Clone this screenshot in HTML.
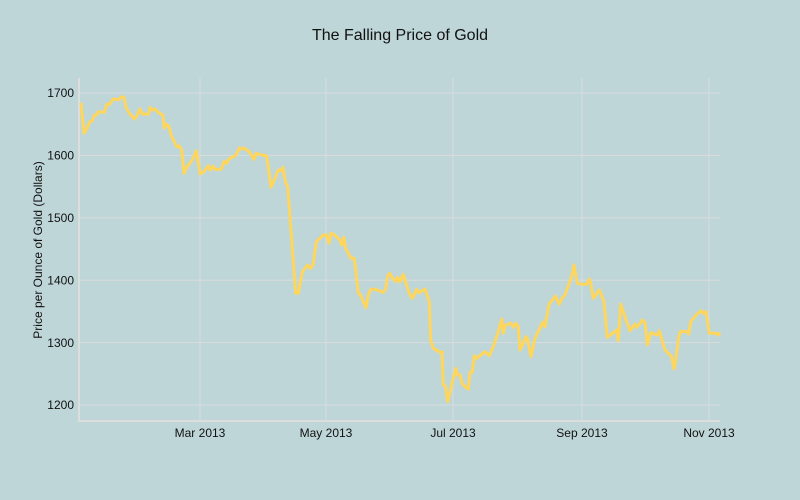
<!DOCTYPE html>
<html><head><style>html,body{margin:0;padding:0;width:800px;height:500px;overflow:hidden;background:#bfd6d9}svg{display:block}</style></head><body>
<svg width="800" height="500" xmlns="http://www.w3.org/2000/svg" font-family="Liberation Sans, sans-serif">
<rect width="800" height="500" fill="#bfd6d9"/>
<g stroke="#d9dcdc" stroke-width="1">
<line x1="79" x2="720" y1="93" y2="93"/><line x1="79" x2="720" y1="155.4" y2="155.4"/>
<line x1="79" x2="720" y1="217.8" y2="217.8"/><line x1="79" x2="720" y1="280.2" y2="280.2"/>
<line x1="79" x2="720" y1="342.6" y2="342.6"/><line x1="79" x2="720" y1="405" y2="405"/>
<line x1="200" x2="200" y1="78" y2="420"/><line x1="326" x2="326" y1="78" y2="420"/>
<line x1="453" x2="453" y1="78" y2="420"/><line x1="582" x2="582" y1="78" y2="420"/>
<line x1="709" x2="709" y1="78" y2="420"/>
</g>
<line x1="79" x2="79" y1="78" y2="421" stroke="#dcdede" stroke-width="2"/>
<line x1="78" x2="720" y1="421" y2="421" stroke="#dcdede" stroke-width="2"/>
<text x="400" y="40" text-anchor="middle" font-size="16" fill="#111">The Falling Price of Gold</text>
<g font-size="12" fill="#111" text-anchor="end">
<text x="74" y="97">1700</text><text x="74" y="159.5">1600</text><text x="74" y="222">1500</text>
<text x="74" y="284.5">1400</text><text x="74" y="347">1300</text><text x="74" y="409">1200</text>
</g>
<g font-size="12" fill="#111" text-anchor="middle">
<text x="200" y="437">Mar 2013</text><text x="326" y="437">May 2013</text><text x="453" y="437">Jul 2013</text>
<text x="582" y="437">Sep 2013</text><text x="709" y="437">Nov 2013</text>
</g>
<text transform="translate(42,250) rotate(-90)" text-anchor="middle" font-size="12" fill="#111">Price per Ounce of Gold (Dollars)</text>
<polyline fill="none" stroke="#ffd65c" stroke-width="3" stroke-linejoin="round" points="81,102.7 84,133.3 86,130 90,121.7 92.3,120.7 94.3,115 97,114.7 98.3,111.7 104.3,112.3 106.7,104.3 109.7,104.3 113,99 118.3,99.7 121.7,96.7 124,97.3 126,107.3 129,112.7 134.3,119 136.7,116 140,109 142.3,114 148.3,114.3 150.3,107.3 152.3,110 155,109 158.3,112.3 163,115.3 164.3,128 166.7,124.3 169,126.7 171.7,136.7 174,140.7 176.7,146.7 179.3,146 181.7,150 184,173.3 186.7,167.3 192.3,160 194.3,156 196.3,150.7 200.3,174 204.3,171.3 208.3,165.7 210.3,170 213,166 215,169.3 221,169.3 224.3,161.3 226.7,163.3 229,159 235.7,155.3 239.7,147.7 241.7,149 244.3,148 250,152.7 254,159.3 256.3,153.3 261.7,155 266.7,156 271,187.3 274.3,180 278.3,170 281,170.7 283,167.3 285.7,183.3 287.7,186.7 295.7,293.3 298.3,293.3 302.3,271.7 307.7,265 310.3,268.3 313,265 316.3,241.7 323.3,235 326.7,235 329,243.3 331,233.3 333.3,234 340,240 341.7,245 343.7,237.3 345.7,248.3 351,258.3 354.3,258.3 358.3,293.3 360,294 366,307.7 368.3,295 371,289.3 374.3,289 383.3,292.3 385.7,288.7 387.7,276 389.7,273.3 393,278.7 395.7,281.3 397.7,277.3 399.7,282 403.3,274.3 406,283.3 409.3,293.3 412.3,298.3 416.7,289.3 419,292.7 425,289 429.3,301.7 430.7,340 433.3,348.3 440.7,352.7 442,351.7 443.3,385 445.3,386 447.7,401.7 453.3,378.3 456,368.3 457.3,375 460,375 462.3,384 468.3,389.3 470,372.3 472.3,372 474.3,355.7 476.7,358.3 485,351.7 489.3,355.7 493.3,346.7 498.3,331.7 501.7,319 503.3,333.3 505.3,325 511,323.3 513.3,327.3 516,323.3 518.3,326.7 520,350 526,336.7 527.3,338.3 531,356.7 535,338.3 542.7,322.3 545,326.7 549,304.3 555.3,296 559.3,304.3 562.3,297.7 565,295 571.7,276 574,265 577.3,283.3 581.7,284.3 586.7,284.3 589.3,279 590.7,283.3 593.3,298.3 599.3,290 604,301.7 607.3,337.3 616.7,330 618.3,340.7 620.7,304 626.7,321.7 630,330.7 635,324 636.7,327.3 642.7,320 645,322.7 647.3,345 650.7,332.7 657.3,335 659.3,330.7 665,350 671.7,356.7 674,369 676,358.3 678.7,337.3 680.7,331.3 687.3,331.7 688.7,334 690.7,321.7 696,315 701,310.7 703.3,313.3 706,311.7 709.3,333.3 716.7,333.3 718.3,335 720,332.7"/>
</svg>
</body></html>
